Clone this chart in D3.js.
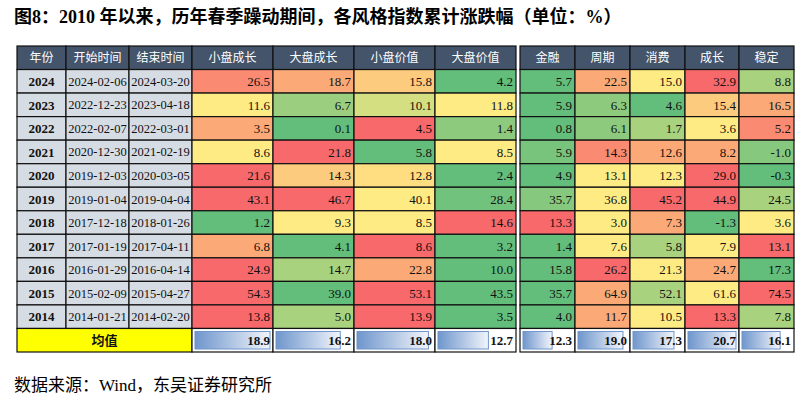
<!DOCTYPE html>
<html><head><meta charset="utf-8">
<script src="https://cdn.jsdelivr.net/npm/d3@7"></script>
<style>body{margin:0;background:#fff;}svg{font-family:"Liberation Serif","Noto Sans CJK SC",serif;}</style>
</head><body><svg id="chart" width="805" height="402"></svg>
<script>
const years = ["2024","2023","2022","2021","2020","2019","2018","2017","2016","2015","2014"];
const startDates = ["2024-02-06","2022-12-23","2022-02-07","2020-12-30","2019-12-03","2019-01-04","2017-12-18","2017-01-19","2016-01-29","2015-02-09","2014-01-21"];
const endDates = ["2024-03-20","2023-04-18","2022-03-01","2021-02-19","2020-03-05","2019-04-04","2018-01-26","2017-04-11","2016-04-14","2015-04-27","2014-02-20"];
const styleCols = ["小盘成长","大盘成长","小盘价值","大盘价值"];
const sectorCols = ["金融","周期","消费","成长","稳定"];
const styleValues = [
  [26.5,18.7,15.8,4.2],[11.6,6.7,10.1,11.8],[3.5,0.1,4.5,1.4],[8.6,21.8,5.8,8.5],
  [21.6,14.3,12.8,2.4],[43.1,46.7,40.1,28.4],[1.2,9.3,8.5,14.6],[6.8,4.1,8.6,3.2],
  [24.9,14.7,22.8,10.0],[54.3,39.0,53.1,43.5],[13.8,5.0,13.9,3.5]];
const sectorValues = [
  [5.7,22.5,15.0,32.9,8.8],[5.9,6.3,4.6,15.4,16.5],[0.8,6.1,1.7,3.6,5.2],[5.9,14.3,12.6,8.2,-1.0],
  [4.9,13.1,12.3,29.0,-0.3],[35.7,36.8,45.2,44.9,24.5],[13.3,3.0,7.3,-1.3,3.6],[1.4,7.6,5.8,7.9,13.1],
  [15.8,26.2,21.3,24.7,17.3],[35.7,64.9,52.1,61.6,74.5],[4.0,11.7,10.5,13.3,7.8]];
// colour rank: 0 green .. 4 red
const styleLevels = [
  [3.5,3,2.5,0],[2,0.8,1.5,2],[3,0,4,0.6],[2,4,0,2],[4,2.5,2.2,0],[4,4,2,0.2],
  [0,2,2,4],[3,0,4,0],[4,1,3,0],[4,0,4,0],[4,1,4,0]];
const sectorLevels = [
  [0,3,2,4,1],[0,0.6,0,2.5,3],[0,0.6,1,2,3.5],[0.3,3.5,3,3,0.5],[0,2,2,4,0],
  [0.5,2,4,4,1],[4,2,3,0,2],[0,2,1,2,4],[0,4,2,3,0],[0,3,1,2,4],[0,3,2,4,1]];
const styleMeans = [18.9,16.2,18.0,12.7];
const sectorMeans = [12.3,19.0,17.3,20.7,16.1];

const svg = d3.select("#chart");
const color = d3.scaleLinear().domain([0,1,2,3,4])
  .range(["#63be7b","#a9d27f","#ffeb84","#fbaa77","#f8696b"]);

svg.append("text").attr("x",14).attr("y",23).attr("font-size",18).attr("font-weight","bold")
  .text("图8：2010 年以来，历年春季躁动期间，各风格指数累计涨跌幅（单位：%）");
svg.append("text").attr("x",14).attr("y",391).attr("font-size",17)
  .text("数据来源：Wind，东吴证券研究所");

const rowY = d3.scaleBand().domain(["h",...years,"m"]).range([46,352]);
const leftEdges = [17,66,129,192,273,354,435,516];
const rightEdges = [520,575,630,685,739,794];
const rh = rowY.bandwidth();

function cell(x0,x1,y,fill,txt,opts={}){
  svg.append("rect").attr("x",x0).attr("y",y).attr("width",x1-x0).attr("height",rh)
    .attr("fill",fill).attr("stroke","#111").attr("stroke-width",1.2);
  if(txt==null) return;
  const anchor = opts.anchor||"middle";
  const tx = anchor==="end" ? x1-3 : (x0+x1)/2;
  svg.append("text").attr("x",tx).attr("y",y+rh/2).attr("dy","0.36em")
    .attr("text-anchor",anchor).attr("font-size",opts.size||13)
    .attr("font-weight",opts.bold?"bold":null).attr("fill",opts.color||"#111").text(txt);
}

// header
const headL = ["年份","开始时间","结束时间",...styleCols];
headL.forEach((h,i)=>cell(leftEdges[i],leftEdges[i+1],rowY("h"),"#44546a",h,{color:"#fff",size:12}));
sectorCols.forEach((h,i)=>cell(rightEdges[i],rightEdges[i+1],rowY("h"),"#44546a",h,{color:"#fff",size:12}));

years.forEach((yr,r)=>{
  const y = rowY(yr);
  cell(leftEdges[0],leftEdges[1],y,"#d6dce4",yr,{bold:true});
  cell(leftEdges[1],leftEdges[2],y,"#d6dce4",startDates[r],{size:12.5});
  cell(leftEdges[2],leftEdges[3],y,"#d6dce4",endDates[r],{size:12.5});
  styleValues[r].forEach((v,c)=>cell(leftEdges[c+3],leftEdges[c+4],y,color(styleLevels[r][c]),v.toFixed(1),{anchor:"end"}));
  sectorValues[r].forEach((v,c)=>cell(rightEdges[c],rightEdges[c+1],y,color(sectorLevels[r][c]),v.toFixed(1),{anchor:"end"}));
});

// mean row with data bars
const defs = svg.append("defs");
const grad = defs.append("linearGradient").attr("id","bar");
grad.append("stop").attr("offset","0%").attr("stop-color","#6f96cc");
grad.append("stop").attr("offset","100%").attr("stop-color","#f2f5fb");
const my = rowY("m");
cell(leftEdges[0],leftEdges[3],my,"#ffff00","均值",{bold:true});
function meanCell(x0,x1,v,max){
  cell(x0,x1,my,"#fff",null);
  const w = d3.scaleLinear().domain([0,max]).range([0,x1-x0-6]);
  svg.append("rect").attr("x",x0+3).attr("y",my+3).attr("width",w(v)).attr("height",rh-6)
    .attr("fill","url(#bar)").attr("stroke","#6f96cc").attr("stroke-width",1);
  svg.append("text").attr("x",x1-3).attr("y",my+rh/2).attr("dy","0.36em").attr("text-anchor","end")
    .attr("font-size",13).attr("font-weight","bold").attr("fill","#111").text(v.toFixed(1));
}
styleMeans.forEach((v,c)=>meanCell(leftEdges[c+3],leftEdges[c+4],v,d3.max(styleMeans)));
sectorMeans.forEach((v,c)=>meanCell(rightEdges[c],rightEdges[c+1],v,d3.max(sectorMeans)));
</script></body></html>
